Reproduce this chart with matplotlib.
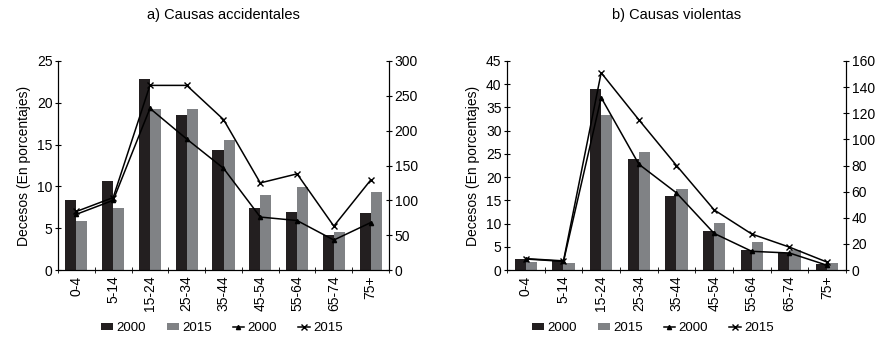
import matplotlib

matplotlib.use("Agg")
import matplotlib.pyplot as plt
import numpy as np

plt.rcParams["font.family"] = ["Liberation Sans", "DejaVu Sans"]
plt.rcParams["font.size"] = 10

ages = ["0-4", "5-14", "15-24", "25-34", "35-44", "45-54", "55-64", "65-74", "75+"]

# a) Causas accidentales
acc_pct_2000 = [8.4, 10.6, 22.8, 18.5, 14.3, 7.4, 6.9, 4.2, 6.8]
acc_pct_2015 = [5.9, 7.4, 19.2, 19.2, 15.5, 9.0, 9.9, 4.5, 9.3]
acc_num_2000 = [80, 100, 232, 188, 146, 76, 71, 43, 68]
acc_num_2015 = [84, 104, 265, 265, 216, 125, 138, 63, 129]

# b) Causas violentas
vio_pct_2000 = [2.4, 2.0, 39.0, 24.0, 16.0, 8.5, 4.4, 3.7, 1.2]
vio_pct_2015 = [1.8, 1.4, 33.3, 25.3, 17.5, 10.2, 6.1, 4.2, 1.4]
vio_num_2000 = [8.4, 6.6, 132, 81, 59, 28, 14.3, 13, 3.6]
vio_num_2015 = [8.7, 7.0, 151, 115, 80, 46, 27.5, 17.5, 6.0]

DARK = "#231f20"
GRAY = "#808285"


def panel(ax, title, p00, p15, n00, n15, ylim, yticks, rlim, rticks, legend_x):
    x = np.arange(len(ages))
    w = 0.3
    b1 = ax.bar(x - w / 2, p00, w, color=DARK, label="2000", zorder=2)
    b2 = ax.bar(x + w / 2, p15, w, color=GRAY, label="2015", zorder=2)
    ax.set_xlim(-0.5, len(ages) - 0.5)
    ax.set_ylim(*ylim)
    ax.set_yticks(yticks)
    ax.set_xticks(x)
    ax.set_xticklabels(ages, rotation=90)
    ax.set_xticks(np.arange(-0.5, len(ages)), minor=True)
    ax.tick_params(axis="x", which="major", length=0, pad=4)
    ax.tick_params(axis="x", which="minor", length=4, direction="inout")
    ax.tick_params(axis="y", length=4, direction="inout", pad=2)
    ax.set_ylabel("Decesos (En porcentajes)")
    ax.set_title(title, pad=30, fontsize=10.5)
    ax.spines["top"].set_visible(False)

    ax2 = ax.twinx()
    l1, = ax2.plot(x, n00, color="black", lw=1.1, marker="^", ms=3, label="2000", zorder=3)
    l2, = ax2.plot(x, n15, color="black", lw=1.1, marker="x", ms=4, mew=1.0, label="2015", zorder=3)
    ax2.set_ylim(*rlim)
    ax2.set_yticks(rticks)
    ax2.tick_params(axis="y", length=4, direction="inout", pad=2)
    ax2.spines["top"].set_visible(False)

    fig.legend([b1, b2, l1, l2], ["2000", "2015", "2000", "2015"], ncol=4, frameon=False,
               loc="center", bbox_to_anchor=(legend_x / 881, 1 - 328 / 344),
               handlelength=0.9, handleheight=0.5, handletextpad=0.25,
               columnspacing=1.6, fontsize=9.5, borderpad=0)


fig = plt.figure(figsize=(8.81, 3.44), dpi=100)
ax_a = fig.add_axes([58 / 881, 1 - 270 / 344, 331 / 881, 209 / 344])
ax_b = fig.add_axes([507 / 881, 1 - 270 / 344, 339 / 881, 209 / 344])

panel(ax_a, "a) Causas accidentales", acc_pct_2000, acc_pct_2015, acc_num_2000, acc_num_2015,
      (0, 25), range(0, 26, 5), (0, 300), range(0, 301, 50), 222)
panel(ax_b, "b) Causas violentas", vio_pct_2000, vio_pct_2015, vio_num_2000, vio_num_2015,
      (0, 45), range(0, 46, 5), (0, 160), range(0, 161, 20), 653)

fig.savefig("out.png", dpi=100)
